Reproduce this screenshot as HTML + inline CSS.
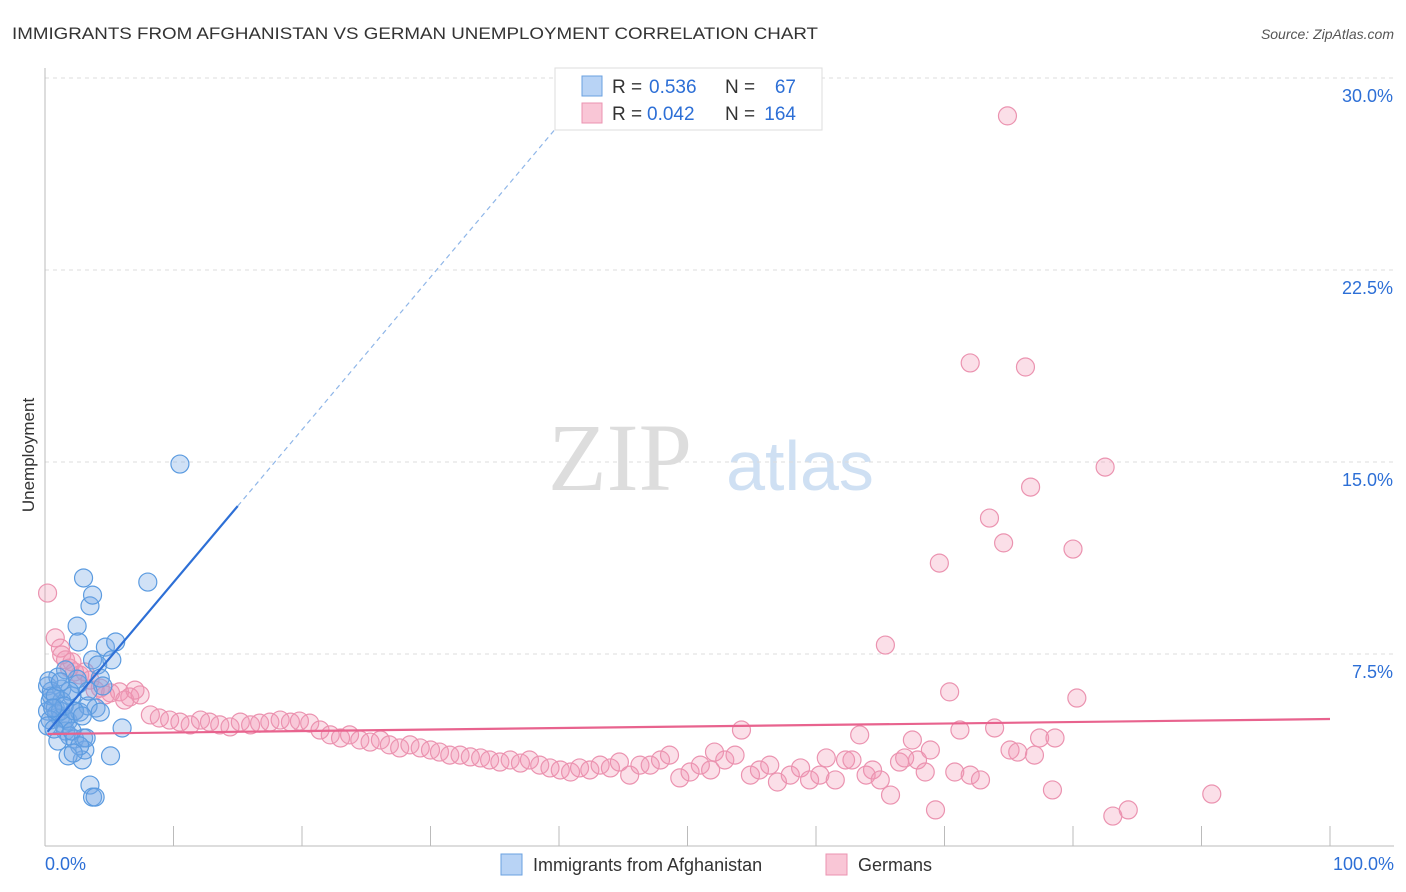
<!DOCTYPE html>
<html><head><meta charset="utf-8"><style>
body{margin:0;background:#fff;font-family:"Liberation Sans",sans-serif;}
svg{display:block}
</style></head><body>
<svg id="chart" width="1406" height="892" xmlns="http://www.w3.org/2000/svg">
<text x="12" y="39" font-size="17" fill="#333" textLength="806" lengthAdjust="spacingAndGlyphs">IMMIGRANTS FROM AFGHANISTAN VS GERMAN UNEMPLOYMENT CORRELATION CHART</text>
<text x="1394" y="39" font-size="14" fill="#555" font-style="italic" text-anchor="end">Source: ZipAtlas.com</text>
<text x="620" y="490" font-size="96" fill="#ddd" font-family="Liberation Serif,serif" text-anchor="middle">ZIP</text>
<text x="800" y="490" font-size="70" fill="#cfe0f3" text-anchor="middle">atlas</text>
<g id="grid"></g>
<g id="axes"></g>
<g id="pts"></g>
<g id="lines"></g>
<text transform="translate(34,455) rotate(-90)" font-size="17" fill="#333" text-anchor="middle">Unemployment</text>
<g>
<rect x="555" y="68" width="267" height="62" fill="#fff" stroke="#ddd"/>
<rect x="582" y="76" width="20" height="20" fill="#b8d3f5" stroke="#6aa0e0"/>
<rect x="582" y="103" width="20" height="20" fill="#f9c6d6" stroke="#eb93b0"/>
<text x="612" y="93" font-size="19" fill="#333">R =</text>
<text x="649" y="93" font-size="19" fill="#2d6fd6">0.536</text>
<text x="725" y="93" font-size="19" fill="#333">N =</text>
<text x="796" y="93" font-size="19" fill="#2d6fd6" text-anchor="end">67</text>
<text x="612" y="120" font-size="19" fill="#333">R =</text>
<text x="647" y="120" font-size="19" fill="#2d6fd6">0.042</text>
<text x="725" y="120" font-size="19" fill="#333">N =</text>
<text x="796" y="120" font-size="19" fill="#2d6fd6" text-anchor="end">164</text>
</g>
<g>
<rect x="501" y="854" width="21" height="21" fill="#b8d3f5" stroke="#6aa0e0"/>
<text x="533" y="871" font-size="18" fill="#333">Immigrants from Afghanistan</text>
<rect x="826" y="854" width="21" height="21" fill="#f9c6d6" stroke="#eb93b0"/>
<text x="858" y="871" font-size="18" fill="#333">Germans</text>
</g>
</svg>
<script>
const yTicks=[7.5,15,22.5,30];
const yTickLabels=["7.5%","15.0%","22.5%","30.0%"];
const xTickLabels=["0.0%","100.0%"];
const blueX=[0.2,0.2,0.4,0.5,0.8,0.9,1.2,1.3,1.4,1.6,1.8,1.9,2.1,2.3,2.3,2.6,2.7,2.9,3.0,3.1,3.5,3.7,3.9,3.2,3.0,3.5,3.7,2.5,2.6,3.7,4.1,4.7,5.2,5.5,4.3,4.5,3.97,3.35,2.5,1.6,1.0,1.3,1.9,0.5,0.3,0.8,1.2,1.6,6.0,5.1,8.0,10.5,2.1,2.7,1.0,0.4,0.2,0.7,1.5,2.3,2.9,3.35,1.8,2.2,4.3,1.2,0.6];
const blueY=[6.25,5.27,5.66,5.86,5.39,5.16,5.0,6.13,4.77,4.49,4.88,4.3,5.86,5.27,4.18,6.33,5.23,3.36,4.22,3.75,2.38,1.91,1.91,4.22,10.47,9.38,9.8,8.59,7.97,7.27,7.07,7.77,7.27,7.97,6.56,6.25,5.39,5.47,6.52,6.88,6.6,5.66,6.05,6.05,6.45,5.86,5.27,4.96,4.61,3.52,10.31,14.92,4.49,3.91,4.1,4.92,4.69,4.57,5.47,5.27,5.08,6.05,3.52,3.63,5.23,6.41,5.39];
const pinkX=[0.2,0.8,1.2,1.6,1.9,2.3,2.7,3.5,4.3,5.1,5.8,6.6,7.4,8.2,8.9,9.7,10.5,11.3,12.1,12.8,13.6,14.4,15.2,16.0,16.7,17.5,18.3,19.1,19.8,20.6,21.4,22.2,23.0,23.7,24.5,25.3,26.1,26.8,27.6,28.4,29.2,30.0,30.7,31.5,32.3,33.1,33.9,34.6,35.4,36.2,37.0,37.7,38.5,39.3,40.1,40.9,41.6,42.4,43.2,44.0,44.7,45.5,46.3,47.1,47.9,48.6,49.4,50.2,51.0,51.8,52.1,52.9,53.7,54.2,54.9,55.6,56.4,57.0,58.0,58.8,59.5,60.3,60.8,61.5,62.3,62.8,63.4,63.9,64.4,65.0,65.4,65.8,66.5,66.9,67.5,67.9,68.5,68.9,69.3,69.6,70.4,70.8,71.2,72.0,72.0,72.8,73.5,73.9,74.6,75.1,75.7,76.3,76.7,77.0,77.4,78.4,78.6,80.0,80.3,82.5,83.1,84.3,90.8,74.9,1.3,2.1,3.1,3.9,4.7,6.2,7.0];
const pinkY=[9.88,8.13,7.73,7.27,6.95,6.80,6.68,6.48,6.17,5.98,6.02,5.82,5.90,5.12,5.00,4.92,4.84,4.73,4.92,4.84,4.73,4.65,4.84,4.73,4.80,4.84,4.92,4.84,4.88,4.80,4.53,4.34,4.22,4.34,4.14,4.06,4.14,3.95,3.83,3.95,3.83,3.75,3.67,3.55,3.55,3.48,3.44,3.36,3.28,3.36,3.24,3.36,3.16,3.05,2.97,2.89,3.05,2.97,3.16,3.05,3.28,2.77,3.16,3.16,3.36,3.55,2.66,2.89,3.16,2.97,3.67,3.36,3.55,4.53,2.77,2.97,3.16,2.50,2.77,3.05,2.58,2.77,3.44,2.58,3.36,3.36,4.34,2.77,2.97,2.58,7.85,1.99,3.28,3.44,4.14,3.36,2.89,3.75,1.41,11.05,6.02,2.89,4.53,18.87,2.77,2.58,12.81,4.61,11.84,3.75,3.67,18.71,14.02,3.55,4.22,2.19,4.22,11.60,5.78,14.80,1.17,1.41,2.03,28.52,7.46,7.19,6.80,6.09,5.90,5.70,6.09];
const blueFit=[4.34,0.596];
const pinkFit=[4.375,0.585];
const X0=45,X1=1330,Y0=846,PXY=25.6;
const sx=v=>X0+(X1-X0)*v/100;
const sy=v=>Y0-v*PXY;
const NS="http://www.w3.org/2000/svg";
function mk(tag,attrs,parent){const e=document.createElementNS(NS,tag);for(const k in attrs)e.setAttribute(k,attrs[k]);parent.appendChild(e);return e;}
const grid=document.getElementById('grid'),axes=document.getElementById('axes'),pts=document.getElementById('pts'),lines=document.getElementById('lines');
yTicks.forEach((t,i)=>{
 const l=mk('line',{x1:45,x2:1394,y1:sy(t),y2:sy(t),stroke:'#ddd','stroke-dasharray':'4,4'},grid);
 
 
 const tx=mk('text',{x:1393,y:sy(t)+24,'font-size':18,fill:'#2d6fd6','text-anchor':'end'},axes);
 tx.textContent=yTickLabels[i];
 
 
});
const ax=mk('line',{x1:45,x2:45,y1:68,y2:846,stroke:'#bbb'},axes);


const bx=mk('line',{x1:45,x2:1394,y1:846,y2:846,stroke:'#bbb'},axes);


for(let i=1;i<=10;i++){const t=mk('line',{x1:sx(i*10),x2:sx(i*10),y1:826,y2:846,stroke:'#bbb'},axes);
 
 }
[[0,'start',45],[100,'end',1394]].forEach((d,i)=>{const t=mk('text',{x:d[2],y:870,'font-size':18,fill:'#2d6fd6','text-anchor':d[1]},axes);t.textContent=xTickLabels[i];
 
 });
pinkX.forEach((x,i)=>{const c=mk('circle',{cx:sx(x),cy:sy(pinkY[i]),r:9,fill:'rgba(242,150,180,0.3)',stroke:'#eb93b0','stroke-width':1.2},pts);
 
 });
blueX.forEach((x,i)=>{const c=mk('circle',{cx:sx(x),cy:sy(blueY[i]),r:9,fill:'rgba(120,170,230,0.35)',stroke:'#5b9be0','stroke-width':1.2},pts);
 
 });
const bl=mk('line',{x1:sx(0.2),y1:sy(blueFit[0]+blueFit[1]*0.2),x2:sx(15),y2:sy(blueFit[0]+blueFit[1]*15),stroke:'#2d6fd6','stroke-width':2.2},lines);


const bd=mk('line',{x1:sx(15),y1:sy(blueFit[0]+blueFit[1]*15),x2:sx(41.5),y2:sy(blueFit[0]+blueFit[1]*41.5),stroke:'#8fb6e8','stroke-width':1.2,'stroke-dasharray':'5,4'},lines);


const pl=mk('line',{x1:sx(0.2),y1:sy(pinkFit[0]),x2:sx(100),y2:sy(pinkFit[0]+pinkFit[1]),stroke:'#e8638e','stroke-width':2.2},lines);


</script>
</body></html>
